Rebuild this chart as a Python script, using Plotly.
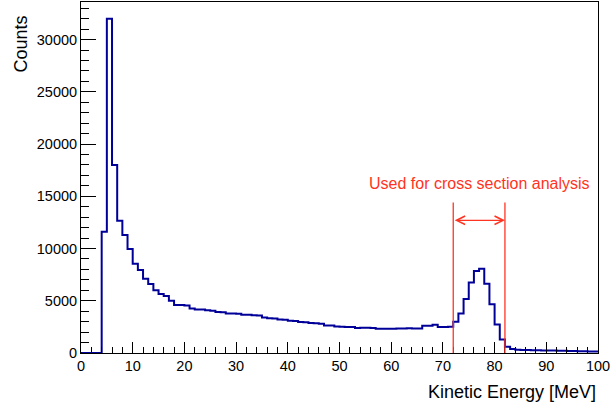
import plotly.graph_objects as go

# ---- data ----
bin_low = 0.0
bin_width = 1.0
counts = [
    0, 0, 0, 0, 11600, 32000, 18000, 12650, 11300, 9950,            # 0-9
    8550, 7950, 7100, 6600, 6000, 5650, 5450, 5000, 4600, 4600,       # 10-19
    4550, 4250, 4170, 4160, 4100, 4050, 3920, 3900, 3780, 3780,       # 20-29
    3750, 3650, 3650, 3620, 3600, 3400, 3320, 3300, 3200, 3180,       # 30-39
    3080, 3060, 2960, 2940, 2860, 2850, 2800, 2640, 2630, 2530,       # 40-49
    2520, 2500, 2500, 2400, 2420, 2420, 2400, 2330, 2320, 2330,       # 50-59
    2320, 2350, 2340, 2360, 2350, 2340, 2600, 2620, 2700, 2500,       # 60-69
    2500, 2510, 2980, 3780, 5170, 6760, 7840, 8060, 6630, 4670,       # 70-79
    2730, 1300, 600, 380, 300, 290, 280, 270, 265, 250,               # 80-89
    240, 235, 220, 215, 200, 190, 175, 165, 150, 140,                 # 90-99
]

x_range = [0, 100]
y_range = [0, 33600]
x_tick_step = 10
x_minor_step = 2
y_tick_step = 5000
y_minor_step = 1000

cut_low, cut_high = 72, 82
cut_line_top = 14400
arrow_y = 12700
label_text = "Used for cross section analysis"
label_x, label_y = 77.0, 16250

x_title = "Kinetic Energy [MeV]"
y_title = "Counts"

# ---- build histogram outline ----
edges = [bin_low + i * bin_width for i in range(len(counts) + 1)]
yvals = counts + [counts[-1]]

FONT = "Liberation Sans, Arial, Helvetica, sans-serif"
RED = "#ff3322"
BLUE = "#000099"

fig = go.Figure()
fig.add_trace(go.Scatter(
    x=edges, y=yvals, mode="lines", line=dict(shape="hv", color=BLUE, width=2),
    hoverinfo="skip", showlegend=False,
))

# cut lines
for xc in (cut_low, cut_high):
    fig.add_shape(type="line", xref="x", yref="y", x0=xc, x1=xc, y0=0, y1=cut_line_top,
                  line=dict(color=RED, width=1.3))

# double arrow
fig.add_annotation(x=cut_high, y=arrow_y, ax=cut_low, ay=arrow_y, xref="x", yref="y",
                   axref="x", ayref="y", text="", showarrow=True, arrowside="end+start",
                   arrowhead=5, arrowsize=1.4, arrowwidth=1.2, arrowcolor=RED,
                   standoff=0, startstandoff=0)
fig.add_annotation(x=label_x, y=label_y, xref="x", yref="y", text=label_text,
                   showarrow=False, xanchor="center", yanchor="middle",
                   font=dict(family=FONT, size=16, color=RED))

# axis titles (ROOT style: at the end of the axis)
fig.add_annotation(x=1, y=0, xref="paper", yref="paper", text=x_title, showarrow=False,
                   xanchor="right", yanchor="middle", yshift=-39,
                   font=dict(family=FONT, size=18, color="black"))
fig.add_annotation(x=0, y=1, xref="paper", yref="paper", text=y_title, showarrow=False,
                   textangle=-90, xanchor="center", yanchor="top", xshift=-61, yshift=-12,
                   font=dict(family=FONT, size=18, color="black"))

fig.update_xaxes(
    range=x_range, dtick=x_tick_step, tick0=0, ticks="inside", ticklen=11, tickwidth=1,
    tickcolor="black", showgrid=False, zeroline=False, showline=True, linecolor="black",
    linewidth=1, mirror=True, tickfont=dict(family=FONT, size=14.5, color="black"),
    minor=dict(dtick=x_minor_step, tick0=0, ticks="inside", ticklen=6, tickcolor="black",
               tickwidth=1, showgrid=False),
)
fig.update_yaxes(
    range=y_range, dtick=y_tick_step, tick0=0, ticks="inside", ticklen=15, tickwidth=1,
    tickcolor="black", showgrid=False, zeroline=False, showline=True, linecolor="black",
    linewidth=1, mirror=True, tickformat="d",
    tickfont=dict(family=FONT, size=14.5, color="black"),
    minor=dict(dtick=y_minor_step, tick0=0, ticks="inside", ticklen=8, tickcolor="black",
               tickwidth=1, showgrid=False),
)

fig.update_layout(
    width=611, height=410, margin=dict(l=81, r=13, t=2, b=57),
    plot_bgcolor="white", paper_bgcolor="white", showlegend=False,
    font=dict(family=FONT, color="black"),
)

fig.write_html("out.html")
